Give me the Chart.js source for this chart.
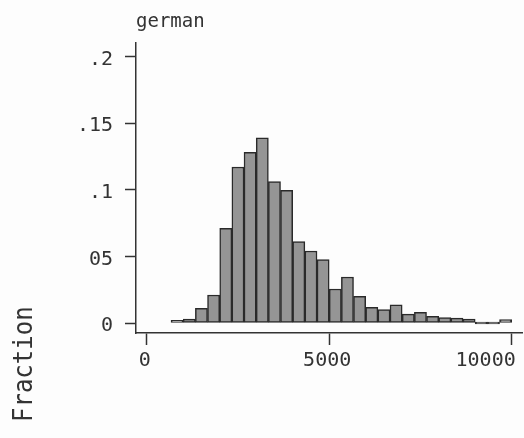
<!DOCTYPE html>
<html>
<head>
<meta charset="utf-8">
<script src="https://cdn.jsdelivr.net/npm/chart.js@4.4.1/dist/chart.umd.min.js"></script>
<style>
  html, body { margin: 0; padding: 0; background: #fdfdfd; }
  #wrap { width: 524px; height: 438px; }
</style>
</head>
<body>
<div id="wrap"><canvas id="c" width="524" height="438"></canvas></div>
<script>
// ---- data ----
const titleText = 'german';
const yTitle = 'Fraction';
const binCenters = [833, 1167, 1500, 1833, 2167, 2500, 2833, 3167, 3500, 3833,
                    4167, 4500, 4833, 5167, 5500, 5833, 6167, 6500, 6833, 7167,
                    7500, 7833, 8167, 8500, 8833, 9167, 9500, 9833];
const fractions = [0.002, 0.003, 0.011, 0.021, 0.071, 0.117, 0.128, 0.139, 0.106, 0.0995,
                   0.061, 0.054, 0.0475, 0.0255, 0.0345, 0.020, 0.0117, 0.010, 0.0137, 0.0067,
                   0.008, 0.005, 0.004, 0.0037, 0.003, 0, 0, 0.0025];
const xTicks = [0, 5000, 10000];
const xTickLabels = ['0', '5000', '10000'];
const yTicks = [0, 0.05, 0.1, 0.15, 0.2];
const yTickLabels = ['0', '05', '.1', '.15', '.2'];

const FONT = '"DejaVu Sans Mono", "Liberation Mono", monospace';
const INK = '#333333';

const yTitlePlugin = {
  id: 'yTitlePlugin',
  afterDraw(chart) {
    const ctx = chart.ctx;
    ctx.save();
    ctx.translate(32, 422);
    ctx.rotate(-Math.PI / 2);
    ctx.scale(1, 1.13);
    ctx.font = '24px ' + FONT;
    ctx.fillStyle = INK;
    ctx.textAlign = 'left';
    ctx.textBaseline = 'alphabetic';
    ctx.fillText(yTitle, 0, 0);
    ctx.restore();
  }
};

new Chart(document.getElementById('c'), {
  type: 'bar',
  data: {
    datasets: [{
      data: binCenters.map((x, i) => ({ x: x, y: fractions[i] })),
      backgroundColor: '#959595',
      borderColor: '#2a2a2a',
      borderWidth: 1.5,
      borderSkipped: false,
      barPercentage: 1,
      categoryPercentage: 1,
      minBarLength: 2
    }]
  },
  options: {
    responsive: false,
    animation: false,
    devicePixelRatio: 1,
    layout: { padding: { top: 0, right: 2, bottom: 0, left: 0 } },
    plugins: {
      legend: { display: false },
      tooltip: { enabled: false },
      title: {
        display: true,
        text: titleText,
        align: 'start',
        fullSize: false,
        color: INK,
        font: { family: FONT, size: 19, weight: 'normal' },
        padding: { top: 11, bottom: 9 }
      }
    },
    scales: {
      x: {
        type: 'linear',
        offset: false,
        min: -293,
        max: 10282,
        afterBuildTicks: (ax) => { ax.ticks = xTicks.map(v => ({ value: v })); },
        afterFit: (ax) => { ax.height = 105; ax.paddingLeft = 0; ax.paddingRight = 0; },
        ticks: {
          autoSkip: false,
          maxRotation: 0,
          minRotation: 0,
          padding: 4,
          labelOffset: -2,
          color: INK,
          font: { family: FONT, size: 20 },
          callback: (v) => {
            const i = xTicks.indexOf(v);
            const s = i >= 0 ? xTickLabels[i] : '';
            return i === xTicks.length - 1 ? s + '    ' : s;
          }
        },
        grid: { display: true, offset: false, drawOnChartArea: false, drawTicks: true, tickLength: 12, tickColor: INK, tickWidth: 1.5 },
        border: { display: true, color: INK, width: 1.5 }
      },
      y: {
        type: 'linear',
        min: -0.0075,
        max: 0.2102,
        afterBuildTicks: (ax) => { ax.ticks = yTicks.map(v => ({ value: v })); },
        afterFit: (ax) => { ax.width = 136; ax.paddingTop = 0; ax.paddingBottom = 0; },
        ticks: {
          padding: 12,
          labelOffset: 3,
          color: INK,
          font: { family: FONT, size: 20 },
          callback: (v) => {
            const i = yTicks.findIndex(t => Math.abs(t - v) < 1e-9);
            return i >= 0 ? yTickLabels[i] : '';
          }
        },
        grid: { display: true, offset: false, drawOnChartArea: false, drawTicks: true, tickLength: 11, tickColor: INK, tickWidth: 1.5 },
        border: { display: true, color: INK, width: 1.5 }
      }
    }
  },
  plugins: [yTitlePlugin]
});
</script>
</body>
</html>
